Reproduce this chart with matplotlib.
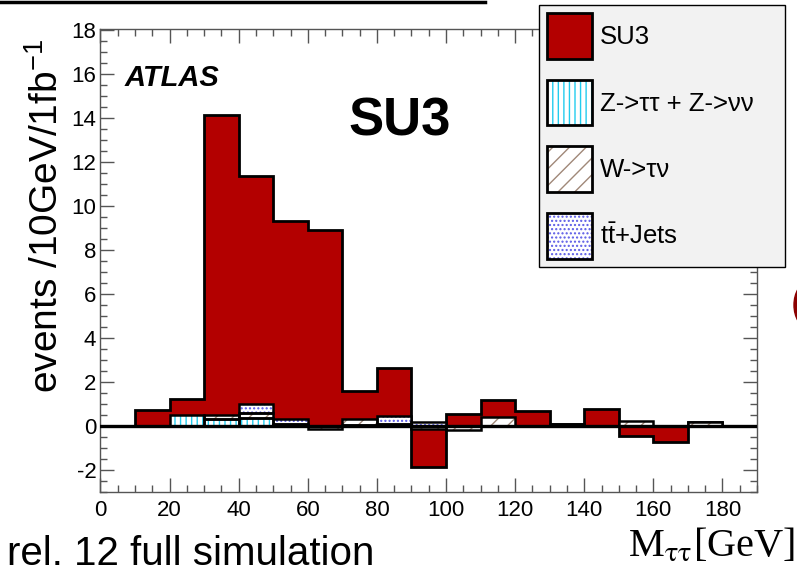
import numpy as np
import matplotlib
matplotlib.use('Agg')
import matplotlib.pyplot as plt
from matplotlib.patches import Patch, Ellipse
from matplotlib.lines import Line2D
from matplotlib.ticker import MultipleLocator

plt.rcParams['font.family'] = ['Liberation Sans', 'DejaVu Sans']
plt.rcParams['mathtext.fontset'] = 'custom'
plt.rcParams['mathtext.rm'] = 'Liberation Sans'
plt.rcParams['mathtext.it'] = 'Liberation Sans:italic'
plt.rcParams['mathtext.bf'] = 'Liberation Sans:bold'
plt.rcParams['axes.unicode_minus'] = False
plt.rcParams['hatch.linewidth'] = 1.0

# 10 GeV bins from 0 to 190
edges = np.arange(0, 200, 10)
centers = edges[:-1] + 5

# SU3 (drawn as the stack total / top of the red histogram)
su3 = np.array([0, 0.75, 1.22, 14.15, 11.38, 9.33, 8.89, 1.59, 2.62, -1.88,
                0.53, 1.17, 0.70, 0.10, 0.76, -0.45, -0.71, 0.18, 0])
# backgrounds, stacked in this order
z_bkg = np.array([0, 0, 0.50, 0.30, 0.38, 0.06, 0, 0.05, 0.04, 0,
                  0, 0, 0, 0, 0, 0, 0, 0, 0])
w_bkg = np.array([0, 0, 0, 0.20, 0.20, 0.04, -0.15, 0.25, 0.03, -0.13,
                  -0.18, 0.40, 0, 0, 0, 0.25, 0, 0.18, 0])
tt_bkg = np.array([0, 0, 0, 0, 0.40, 0.22, 0, 0, 0.40, 0.20,
                   0, 0, 0, 0.10, 0, 0, 0, 0, 0])

labels = ['SU3', 'Z->ττ + Z->νν', 'W->τν', r'$\mathrm{t\bar{t}}$+Jets']

RED = '#b30000'
bkg_styles = [
    (z_bkg, '#22ccee', '|||'),
    (w_bkg, '#a08878', '//'),
    (tt_bkg, '#5a5ae6', '....'),
]

fig = plt.figure(figsize=(7.97, 5.8), dpi=100)
ax = fig.add_axes([100.5 / 797, 88 / 580, 656.5 / 797, 463 / 580])

# red histogram
ax.stairs(su3, edges, fill=True, color=RED, baseline=0, zorder=1)
ax.stairs(su3, edges, color='black', lw=2, baseline=0, zorder=1.1)

# stacked backgrounds (white under the hatch like ROOT does)
pos_bottom = np.zeros(len(centers))
neg_bottom = np.zeros(len(centers))
for vals, hcol, hatch in bkg_styles:
    bottom = np.where(vals >= 0, pos_bottom, neg_bottom)
    m = vals != 0
    ax.bar(centers[m], vals[m], width=10, bottom=bottom[m], facecolor='white',
           edgecolor=hcol, hatch=hatch, lw=0, zorder=2)
    ax.bar(centers[m], vals[m], width=10, bottom=bottom[m], fill=False,
           edgecolor='black', lw=1.8, zorder=2.1)
    pos_bottom += np.clip(vals, 0, None)
    neg_bottom += np.clip(vals, None, 0)

ax.axhline(0, color='black', lw=2.4, zorder=3)

ax.set_xlim(0, 190)
ax.set_ylim(-3.0, 18.05)
ax.xaxis.set_major_locator(MultipleLocator(20))
ax.xaxis.set_minor_locator(MultipleLocator(5))
ax.yaxis.set_major_locator(MultipleLocator(2))
ax.yaxis.set_minor_locator(MultipleLocator(0.5))
ax.tick_params(which='both', direction='in', top=True, right=True,
               color='#555555', width=1, labelsize=16)
ax.tick_params(which='major', length=10)
ax.tick_params(which='minor', length=5)
ax.tick_params(axis='x', pad=6)
ax.tick_params(axis='y', pad=3)
for sp in ax.spines.values():
    sp.set_color('#555555')
    sp.set_linewidth(1)

ax.set_ylabel(r'events /10GeV/1fb$^{\mathregular{-1}}$', fontsize=28)
ax.yaxis.set_label_coords(-0.052, 0.596)

ax.text(0.037, 0.895, 'ATLAS', transform=ax.transAxes, fontsize=21,
        fontweight='bold', fontstyle='italic', va='center', ha='left')
ax.text(0.377, 0.80, 'SU3', transform=ax.transAxes, fontsize=38,
        fontweight='bold', va='center', ha='left')

# legend
handles = [Patch(facecolor=RED, edgecolor='black', lw=2)]
for vals, hcol, hatch in bkg_styles:
    handles.append((Patch(facecolor='white', edgecolor=hcol, hatch=hatch, lw=0),
                    Patch(fill=False, edgecolor='black', lw=2)))
leg = ax.legend(handles, labels, loc='upper left',
                bbox_to_anchor=(539 / 797, 1 - 265 / 580, 246 / 797, 260 / 580),
                bbox_transform=fig.transFigure, mode='expand', fontsize=18.5,
                handlelength=1.75, handleheight=2.35, labelspacing=0.82,
                borderpad=0.32, handletextpad=0.3, borderaxespad=0,
                fancybox=False, framealpha=1, facecolor='#f2f2f2',
                edgecolor='black')
leg.get_frame().set_linewidth(1.0)
leg.set_zorder(10)

fig.text(795 / 797, 1 - 557 / 580, r'M$_{\mathrm{\tau\tau}}$[GeV]', ha='right',
         va='baseline', fontsize=29, family='Liberation Serif',
         math_fontfamily='stix')
fig.text(7 / 797, 1 - 565 / 580, 'rel. 12 full simulation', ha='left',
         va='baseline', fontsize=29)

# slide leftovers around the plot
fig.add_artist(Line2D([0, 485 / 797], [1 - 1.5 / 580] * 2, color='black', lw=2.5))
fig.add_artist(Ellipse((808 / 797, 1 - 305 / 580), 28 / 797, 45 / 580,
                       color='#8b0000'))

fig.savefig('out.png', dpi=100)
